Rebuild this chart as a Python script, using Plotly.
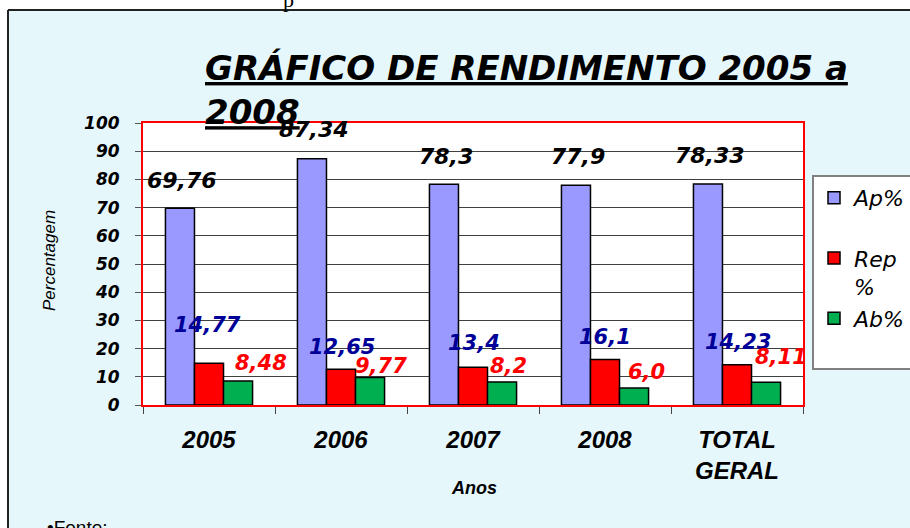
import plotly.graph_objects as go

categories = ["2005", "2006", "2007", "2008", "TOTAL<br>GERAL"]
ap_values = [69.76, 87.34, 78.3, 77.9, 78.33]
rep_values = [14.77, 12.65, 13.4, 16.1, 14.23]
ab_values = [8.48, 9.77, 8.2, 6.0, 8.11]
ap_labels = ["69,76", "87,34", "78,3", "77,9", "78,33"]
rep_labels = ["14,77", "12,65", "13,4", "16,1", "14,23"]
ab_labels = ["8,48", "9,77", "8,2", "6,0", "8,11"]
y_ticks = list(range(0, 101, 10))

# label placement offsets (pixels)
ap_dx = [2, 2, 2, 2, 2]
ap_dy = [28, 29, 28, 29, 29]
rep_dx = [-2, 1, 1, 0, 1]
rep_dy = [38, 22, 24, 23, 23]
ab_dx = [23, 11, 6, 12, 15]
ab_dy = [18, 11, 16, 16, 25]

W, H = 910, 528
L, R, T, B = 143, 107, 123, 123
PW, PH = W - L - R, H - T - B


def px(x):
    return (x - L) / PW


def py(y):
    return (H - B - y) / PH


BG = "#E6F7FC"
BAR_SHIFT = 29

fig = go.Figure()
line = dict(color="black", width=1.5)
fig.add_trace(go.Bar(name="Ap%<br> ", x=categories, y=ap_values,
                     marker=dict(color="#9999FF", line=line)))
fig.add_trace(go.Bar(name="Rep<br>%", x=categories, y=rep_values,
                     marker=dict(color="#FF0000", line=line)))
fig.add_trace(go.Bar(name="Ab%<br> ", x=categories, y=ab_values,
                     marker=dict(color="#00B050", line=line)))

annotations = []
lab_font = "DejaVu Sans"
for i, c in enumerate(categories):
    # category axis: use the category index as the annotation position
    annotations.append(dict(x=i, y=ap_values[i], xref="x", yref="y", text=ap_labels[i],
                            showarrow=False, xshift=-BAR_SHIFT + ap_dx[i], yshift=ap_dy[i],
                            font=dict(family=lab_font, size=22, color="black", style="italic", weight="bold")))
    annotations.append(dict(x=i, y=rep_values[i], xref="x", yref="y", text=rep_labels[i],
                            showarrow=False, xshift=rep_dx[i], yshift=rep_dy[i],
                            font=dict(family=lab_font, size=21, color="#000099", style="italic", weight="bold")))
    annotations.append(dict(x=i, y=ab_values[i], xref="x", yref="y", text=ab_labels[i],
                            showarrow=False, xshift=BAR_SHIFT + ab_dx[i], yshift=ab_dy[i],
                            font=dict(family=lab_font, size=21, color="#FF0000", style="italic", weight="bold")))

annotations.append(dict(x=px(203), y=py(46), xref="paper", yref="paper", xanchor="left", yanchor="top",
                        text="<u>GRÁFICO DE RENDIMENTO 2005 a</u><br><u>2008</u>", align="left",
                        showarrow=False,
                        font=dict(family="DejaVu Sans", size=34, color="black", style="italic", weight="bold")))
annotations.append(dict(x=px(45), y=py(527), xref="paper", yref="paper", xanchor="left", yanchor="middle",
                        text="•Fonte:", showarrow=False,
                        font=dict(family="Liberation Sans", size=19, color="black")))
annotations.append(dict(x=px(288), y=py(-1), xref="paper", yref="paper", xanchor="center", yanchor="middle",
                        text="p", showarrow=False,
                        font=dict(family="Liberation Serif", size=22, color="black")))
annotations.append(dict(x=px(49), y=py(261), xref="paper", yref="paper", xanchor="center", yanchor="middle",
                        text="Percentagem", textangle=-90, showarrow=False,
                        font=dict(family="Liberation Sans", size=17, color="black", style="italic")))
annotations.append(dict(x=px(474), y=py(488), xref="paper", yref="paper", xanchor="center", yanchor="middle",
                        text="Anos", showarrow=False,
                        font=dict(family="Liberation Sans", size=18, color="black", style="italic", weight="bold")))

shapes = [
    dict(type="rect", xref="paper", yref="paper", x0=px(-5), x1=px(W + 5), y0=py(10), y1=py(-5),
         fillcolor="white", line=dict(width=0), layer="below"),
    dict(type="rect", xref="paper", yref="paper", x0=px(-5), x1=px(8), y0=py(H + 5), y1=py(-5),
         fillcolor="white", line=dict(width=0), layer="below"),
    dict(type="line", xref="paper", yref="paper", x0=px(8), x1=px(W + 5), y0=py(10), y1=py(10),
         line=dict(color="#222", width=2), layer="below"),
    dict(type="line", xref="paper", yref="paper", x0=px(8), x1=px(8), y0=py(10), y1=py(H + 5),
         line=dict(color="#222", width=2), layer="below"),
]

fig.update_layout(
    width=W, height=H,
    margin=dict(l=L, r=R, t=T, b=B, autoexpand=False),
    paper_bgcolor=BG, plot_bgcolor="white",
    barmode="group", bargap=0.34, bargroupgap=0,
    showlegend=True,
    legend=dict(x=px(812), y=py(175), xanchor="left", yanchor="top",
                bgcolor="white", bordercolor="#808080", borderwidth=2,
                valign="top", tracegroupgap=0,
                font=dict(family="DejaVu Sans", size=22, color="black", style="italic")),
    annotations=annotations,
    shapes=shapes,
    xaxis=dict(type="category", range=[-0.5, len(categories) - 0.5],
               showline=True, linecolor="#FF0000", linewidth=2, mirror=True,
               ticks="outside", tickson="boundaries", ticklen=7, tickcolor="#444", tickwidth=1,
               ticklabelstandoff=12,
               tickfont=dict(family="Liberation Sans", size=24, color="black", style="italic", weight="bold"),
               showgrid=False),
    yaxis=dict(range=[0, 100], tickvals=y_ticks, showline=True, linecolor="#FF0000", linewidth=2, mirror=True,
               ticks="outside", ticklen=6, tickcolor="#555", tickwidth=1,
               ticklabelstandoff=12,
               showgrid=True, gridcolor="#404040", gridwidth=1,
               tickfont=dict(family="DejaVu Sans", size=17, color="black", style="italic", weight="bold")),
)

fig.write_html("out.html", config={"displayModeBar": False},
               post_script="document.body.style.margin='0';")
